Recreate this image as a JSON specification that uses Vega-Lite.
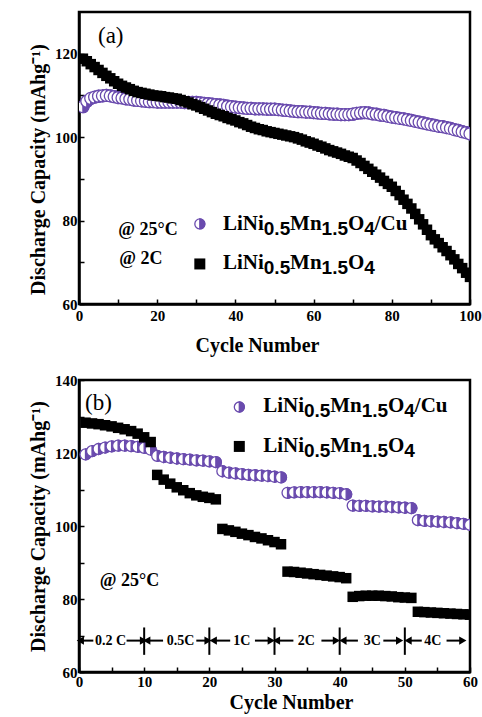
{
"$schema":"https://vega.github.io/schema/vega-lite/v6.json",
"background":"white",
"padding":{"left":27,"top":10,"right":6,"bottom":2},
"spacing":14,
"config":{
 "font":"Liberation Serif",
 "view":{"stroke":"black","strokeWidth":2.5},
 "axis":{"domainColor":"black","domainWidth":2.5,"tickColor":"black","tickWidth":1.5,"tickSize":-5,"grid":false,
  "labelFont":"Liberation Serif","labelFontWeight":"bold","labelFontSize":15,"labelColor":"black","labelFlush":false,"labelOverlap":false,"labelPadding":7,
  "titleFont":"Liberation Serif","titleFontWeight":"bold","titleFontSize":20,"titleColor":"black"},
 "text":{"font":"Liberation Serif","color":"black"}
},
"datasets":{
 "a":[
{"sample":"bare","cycle":1,"capacity":118.8},{"sample":"bare","cycle":2,"capacity":118.2},{"sample":"bare","cycle":3,"capacity":117.5},{"sample":"bare","cycle":4,"capacity":116.8},{"sample":"bare","cycle":5,"capacity":116.1},{"sample":"bare","cycle":6,"capacity":115.4},{"sample":"bare","cycle":7,"capacity":114.7},{"sample":"bare","cycle":8,"capacity":114.1},{"sample":"bare","cycle":9,"capacity":113.4},{"sample":"bare","cycle":10,"capacity":112.8},
{"sample":"bare","cycle":11,"capacity":112.3},{"sample":"bare","cycle":12,"capacity":111.9},{"sample":"bare","cycle":13,"capacity":111.5},{"sample":"bare","cycle":14,"capacity":111.1},{"sample":"bare","cycle":15,"capacity":110.8},{"sample":"bare","cycle":16,"capacity":110.6},{"sample":"bare","cycle":17,"capacity":110.4},{"sample":"bare","cycle":18,"capacity":110.2},{"sample":"bare","cycle":19,"capacity":110.0},{"sample":"bare","cycle":20,"capacity":109.9},
{"sample":"bare","cycle":21,"capacity":109.8},{"sample":"bare","cycle":22,"capacity":109.6},{"sample":"bare","cycle":23,"capacity":109.5},{"sample":"bare","cycle":24,"capacity":109.3},{"sample":"bare","cycle":25,"capacity":109.2},{"sample":"bare","cycle":26,"capacity":108.9},{"sample":"bare","cycle":27,"capacity":108.6},{"sample":"bare","cycle":28,"capacity":108.3},{"sample":"bare","cycle":29,"capacity":107.9},{"sample":"bare","cycle":30,"capacity":107.6},
{"sample":"bare","cycle":31,"capacity":107.2},{"sample":"bare","cycle":32,"capacity":106.8},{"sample":"bare","cycle":33,"capacity":106.4},{"sample":"bare","cycle":34,"capacity":106.0},{"sample":"bare","cycle":35,"capacity":105.6},{"sample":"bare","cycle":36,"capacity":105.3},{"sample":"bare","cycle":37,"capacity":105.0},{"sample":"bare","cycle":38,"capacity":104.6},{"sample":"bare","cycle":39,"capacity":104.3},{"sample":"bare","cycle":40,"capacity":104.0},
{"sample":"bare","cycle":41,"capacity":103.6},{"sample":"bare","cycle":42,"capacity":103.3},{"sample":"bare","cycle":43,"capacity":102.9},{"sample":"bare","cycle":44,"capacity":102.5},{"sample":"bare","cycle":45,"capacity":102.2},{"sample":"bare","cycle":46,"capacity":101.9},{"sample":"bare","cycle":47,"capacity":101.7},{"sample":"bare","cycle":48,"capacity":101.4},{"sample":"bare","cycle":49,"capacity":101.2},{"sample":"bare","cycle":50,"capacity":101.0},
{"sample":"bare","cycle":51,"capacity":100.8},{"sample":"bare","cycle":52,"capacity":100.6},{"sample":"bare","cycle":53,"capacity":100.4},{"sample":"bare","cycle":54,"capacity":100.2},{"sample":"bare","cycle":55,"capacity":100.0},{"sample":"bare","cycle":56,"capacity":99.7},{"sample":"bare","cycle":57,"capacity":99.4},{"sample":"bare","cycle":58,"capacity":99.0},{"sample":"bare","cycle":59,"capacity":98.7},{"sample":"bare","cycle":60,"capacity":98.4},
{"sample":"bare","cycle":61,"capacity":98.0},{"sample":"bare","cycle":62,"capacity":97.7},{"sample":"bare","cycle":63,"capacity":97.3},{"sample":"bare","cycle":64,"capacity":96.9},{"sample":"bare","cycle":65,"capacity":96.6},{"sample":"bare","cycle":66,"capacity":96.3},{"sample":"bare","cycle":67,"capacity":96.0},{"sample":"bare","cycle":68,"capacity":95.6},{"sample":"bare","cycle":69,"capacity":95.3},{"sample":"bare","cycle":70,"capacity":95.0},
{"sample":"bare","cycle":71,"capacity":94.4},{"sample":"bare","cycle":72,"capacity":93.8},{"sample":"bare","cycle":73,"capacity":93.1},{"sample":"bare","cycle":74,"capacity":92.4},{"sample":"bare","cycle":75,"capacity":91.7},{"sample":"bare","cycle":76,"capacity":91.0},{"sample":"bare","cycle":77,"capacity":90.3},{"sample":"bare","cycle":78,"capacity":89.5},{"sample":"bare","cycle":79,"capacity":88.8},{"sample":"bare","cycle":80,"capacity":88.1},
{"sample":"bare","cycle":81,"capacity":87.1},{"sample":"bare","cycle":82,"capacity":86.1},{"sample":"bare","cycle":83,"capacity":85.0},{"sample":"bare","cycle":84,"capacity":84.0},{"sample":"bare","cycle":85,"capacity":82.9},{"sample":"bare","cycle":86,"capacity":81.6},{"sample":"bare","cycle":87,"capacity":80.3},{"sample":"bare","cycle":88,"capacity":79.1},{"sample":"bare","cycle":89,"capacity":77.8},{"sample":"bare","cycle":90,"capacity":76.5},
{"sample":"bare","cycle":91,"capacity":75.5},{"sample":"bare","cycle":92,"capacity":74.6},{"sample":"bare","cycle":93,"capacity":73.6},{"sample":"bare","cycle":94,"capacity":72.7},{"sample":"bare","cycle":95,"capacity":71.7},{"sample":"bare","cycle":96,"capacity":70.7},{"sample":"bare","cycle":97,"capacity":69.6},{"sample":"bare","cycle":98,"capacity":68.6},{"sample":"bare","cycle":99,"capacity":67.5},{"sample":"bare","cycle":100,"capacity":66.5},
{"sample":"Cu","cycle":1,"capacity":107.3},{"sample":"Cu","cycle":2,"capacity":108.6},{"sample":"Cu","cycle":3,"capacity":109.3},{"sample":"Cu","cycle":4,"capacity":109.6},{"sample":"Cu","cycle":5,"capacity":109.8},{"sample":"Cu","cycle":6,"capacity":109.9},{"sample":"Cu","cycle":7,"capacity":110.0},{"sample":"Cu","cycle":8,"capacity":109.9},{"sample":"Cu","cycle":9,"capacity":109.7},{"sample":"Cu","cycle":10,"capacity":109.5},
{"sample":"Cu","cycle":11,"capacity":109.4},{"sample":"Cu","cycle":12,"capacity":109.2},{"sample":"Cu","cycle":13,"capacity":109.1},{"sample":"Cu","cycle":14,"capacity":108.9},{"sample":"Cu","cycle":15,"capacity":108.8},{"sample":"Cu","cycle":16,"capacity":108.7},{"sample":"Cu","cycle":17,"capacity":108.6},{"sample":"Cu","cycle":18,"capacity":108.5},{"sample":"Cu","cycle":19,"capacity":108.5},{"sample":"Cu","cycle":20,"capacity":108.4},
{"sample":"Cu","cycle":21,"capacity":108.4},{"sample":"Cu","cycle":22,"capacity":108.4},{"sample":"Cu","cycle":23,"capacity":108.4},{"sample":"Cu","cycle":24,"capacity":108.4},{"sample":"Cu","cycle":25,"capacity":108.4},{"sample":"Cu","cycle":26,"capacity":108.4},{"sample":"Cu","cycle":27,"capacity":108.3},{"sample":"Cu","cycle":28,"capacity":108.3},{"sample":"Cu","cycle":29,"capacity":108.3},{"sample":"Cu","cycle":30,"capacity":108.3},
{"sample":"Cu","cycle":31,"capacity":108.2},{"sample":"Cu","cycle":32,"capacity":108.1},{"sample":"Cu","cycle":33,"capacity":108.0},{"sample":"Cu","cycle":34,"capacity":107.9},{"sample":"Cu","cycle":35,"capacity":107.8},{"sample":"Cu","cycle":36,"capacity":107.7},{"sample":"Cu","cycle":37,"capacity":107.6},{"sample":"Cu","cycle":38,"capacity":107.4},{"sample":"Cu","cycle":39,"capacity":107.3},{"sample":"Cu","cycle":40,"capacity":107.2},
{"sample":"Cu","cycle":41,"capacity":107.1},{"sample":"Cu","cycle":42,"capacity":107.0},{"sample":"Cu","cycle":43,"capacity":106.9},{"sample":"Cu","cycle":44,"capacity":106.9},{"sample":"Cu","cycle":45,"capacity":106.8},{"sample":"Cu","cycle":46,"capacity":106.8},{"sample":"Cu","cycle":47,"capacity":106.8},{"sample":"Cu","cycle":48,"capacity":106.7},{"sample":"Cu","cycle":49,"capacity":106.7},{"sample":"Cu","cycle":50,"capacity":106.7},
{"sample":"Cu","cycle":51,"capacity":106.6},{"sample":"Cu","cycle":52,"capacity":106.5},{"sample":"Cu","cycle":53,"capacity":106.4},{"sample":"Cu","cycle":54,"capacity":106.3},{"sample":"Cu","cycle":55,"capacity":106.2},{"sample":"Cu","cycle":56,"capacity":106.1},{"sample":"Cu","cycle":57,"capacity":106.1},{"sample":"Cu","cycle":58,"capacity":106.0},{"sample":"Cu","cycle":59,"capacity":106.0},{"sample":"Cu","cycle":60,"capacity":105.9},
{"sample":"Cu","cycle":61,"capacity":105.8},{"sample":"Cu","cycle":62,"capacity":105.7},{"sample":"Cu","cycle":63,"capacity":105.7},{"sample":"Cu","cycle":64,"capacity":105.6},{"sample":"Cu","cycle":65,"capacity":105.5},{"sample":"Cu","cycle":66,"capacity":105.5},{"sample":"Cu","cycle":67,"capacity":105.4},{"sample":"Cu","cycle":68,"capacity":105.4},{"sample":"Cu","cycle":69,"capacity":105.4},{"sample":"Cu","cycle":70,"capacity":105.5},
{"sample":"Cu","cycle":71,"capacity":105.7},{"sample":"Cu","cycle":72,"capacity":105.8},{"sample":"Cu","cycle":73,"capacity":105.9},{"sample":"Cu","cycle":74,"capacity":105.8},{"sample":"Cu","cycle":75,"capacity":105.6},{"sample":"Cu","cycle":76,"capacity":105.5},{"sample":"Cu","cycle":77,"capacity":105.3},{"sample":"Cu","cycle":78,"capacity":105.2},{"sample":"Cu","cycle":79,"capacity":105.0},{"sample":"Cu","cycle":80,"capacity":104.8},
{"sample":"Cu","cycle":81,"capacity":104.7},{"sample":"Cu","cycle":82,"capacity":104.5},{"sample":"Cu","cycle":83,"capacity":104.4},{"sample":"Cu","cycle":84,"capacity":104.2},{"sample":"Cu","cycle":85,"capacity":104.0},{"sample":"Cu","cycle":86,"capacity":103.8},{"sample":"Cu","cycle":87,"capacity":103.6},{"sample":"Cu","cycle":88,"capacity":103.4},{"sample":"Cu","cycle":89,"capacity":103.2},{"sample":"Cu","cycle":90,"capacity":103.0},
{"sample":"Cu","cycle":91,"capacity":102.8},{"sample":"Cu","cycle":92,"capacity":102.6},{"sample":"Cu","cycle":93,"capacity":102.5},{"sample":"Cu","cycle":94,"capacity":102.3},{"sample":"Cu","cycle":95,"capacity":102.1},{"sample":"Cu","cycle":96,"capacity":101.8},{"sample":"Cu","cycle":97,"capacity":101.6},{"sample":"Cu","cycle":98,"capacity":101.3},{"sample":"Cu","cycle":99,"capacity":101.1},{"sample":"Cu","cycle":100,"capacity":100.8}
 ],
 "b":[
{"sample":"bare","cycle":1,"capacity":128.3},{"sample":"bare","cycle":2,"capacity":128.1},{"sample":"bare","cycle":3,"capacity":127.9},{"sample":"bare","cycle":4,"capacity":127.6},{"sample":"bare","cycle":5,"capacity":127.3},{"sample":"bare","cycle":6,"capacity":126.9},{"sample":"bare","cycle":7,"capacity":126.5},{"sample":"bare","cycle":8,"capacity":126.0},{"sample":"bare","cycle":9,"capacity":125.3},{"sample":"bare","cycle":10,"capacity":124.3},{"sample":"bare","cycle":11,"capacity":123.0},
{"sample":"bare","cycle":12,"capacity":114.0},{"sample":"bare","cycle":13,"capacity":112.7},{"sample":"bare","cycle":14,"capacity":111.6},{"sample":"bare","cycle":15,"capacity":110.6},{"sample":"bare","cycle":16,"capacity":109.8},{"sample":"bare","cycle":17,"capacity":109.0},{"sample":"bare","cycle":18,"capacity":108.4},{"sample":"bare","cycle":19,"capacity":108.0},{"sample":"bare","cycle":20,"capacity":107.7},{"sample":"bare","cycle":21,"capacity":107.3},
{"sample":"bare","cycle":22,"capacity":99.2},{"sample":"bare","cycle":23,"capacity":98.8},{"sample":"bare","cycle":24,"capacity":98.4},{"sample":"bare","cycle":25,"capacity":97.9},{"sample":"bare","cycle":26,"capacity":97.5},{"sample":"bare","cycle":27,"capacity":97.0},{"sample":"bare","cycle":28,"capacity":96.6},{"sample":"bare","cycle":29,"capacity":96.1},{"sample":"bare","cycle":30,"capacity":95.6},{"sample":"bare","cycle":31,"capacity":95.0},
{"sample":"bare","cycle":32,"capacity":87.5},{"sample":"bare","cycle":33,"capacity":87.4},{"sample":"bare","cycle":34,"capacity":87.2},{"sample":"bare","cycle":35,"capacity":87.0},{"sample":"bare","cycle":36,"capacity":86.8},{"sample":"bare","cycle":37,"capacity":86.6},{"sample":"bare","cycle":38,"capacity":86.4},{"sample":"bare","cycle":39,"capacity":86.2},{"sample":"bare","cycle":40,"capacity":86.0},{"sample":"bare","cycle":41,"capacity":85.7},
{"sample":"bare","cycle":42,"capacity":80.6},{"sample":"bare","cycle":43,"capacity":80.8},{"sample":"bare","cycle":44,"capacity":80.9},{"sample":"bare","cycle":45,"capacity":80.9},{"sample":"bare","cycle":46,"capacity":80.9},{"sample":"bare","cycle":47,"capacity":80.8},{"sample":"bare","cycle":48,"capacity":80.7},{"sample":"bare","cycle":49,"capacity":80.5},{"sample":"bare","cycle":50,"capacity":80.4},{"sample":"bare","cycle":51,"capacity":80.3},
{"sample":"bare","cycle":52,"capacity":76.5},{"sample":"bare","cycle":53,"capacity":76.4},{"sample":"bare","cycle":54,"capacity":76.3},{"sample":"bare","cycle":55,"capacity":76.2},{"sample":"bare","cycle":56,"capacity":76.1},{"sample":"bare","cycle":57,"capacity":76.0},{"sample":"bare","cycle":58,"capacity":75.9},{"sample":"bare","cycle":59,"capacity":75.8},{"sample":"bare","cycle":60,"capacity":75.7},
{"sample":"Cu","cycle":1,"capacity":119.6},{"sample":"Cu","cycle":2,"capacity":120.5},{"sample":"Cu","cycle":3,"capacity":121.1},{"sample":"Cu","cycle":4,"capacity":121.5},{"sample":"Cu","cycle":5,"capacity":121.8},{"sample":"Cu","cycle":6,"capacity":122.0},{"sample":"Cu","cycle":7,"capacity":122.0},{"sample":"Cu","cycle":8,"capacity":121.9},{"sample":"Cu","cycle":9,"capacity":121.7},{"sample":"Cu","cycle":10,"capacity":121.4},{"sample":"Cu","cycle":11,"capacity":120.9},
{"sample":"Cu","cycle":12,"capacity":119.2},{"sample":"Cu","cycle":13,"capacity":118.9},{"sample":"Cu","cycle":14,"capacity":118.7},{"sample":"Cu","cycle":15,"capacity":118.5},{"sample":"Cu","cycle":16,"capacity":118.3},{"sample":"Cu","cycle":17,"capacity":118.2},{"sample":"Cu","cycle":18,"capacity":118.0},{"sample":"Cu","cycle":19,"capacity":117.9},{"sample":"Cu","cycle":20,"capacity":117.7},{"sample":"Cu","cycle":21,"capacity":117.5},
{"sample":"Cu","cycle":22,"capacity":115.0},{"sample":"Cu","cycle":23,"capacity":114.6},{"sample":"Cu","cycle":24,"capacity":114.4},{"sample":"Cu","cycle":25,"capacity":114.2},{"sample":"Cu","cycle":26,"capacity":114.0},{"sample":"Cu","cycle":27,"capacity":113.9},{"sample":"Cu","cycle":28,"capacity":113.8},{"sample":"Cu","cycle":29,"capacity":113.7},{"sample":"Cu","cycle":30,"capacity":113.5},{"sample":"Cu","cycle":31,"capacity":113.3},
{"sample":"Cu","cycle":32,"capacity":109.1},{"sample":"Cu","cycle":33,"capacity":109.2},{"sample":"Cu","cycle":34,"capacity":109.3},{"sample":"Cu","cycle":35,"capacity":109.3},{"sample":"Cu","cycle":36,"capacity":109.3},{"sample":"Cu","cycle":37,"capacity":109.3},{"sample":"Cu","cycle":38,"capacity":109.2},{"sample":"Cu","cycle":39,"capacity":109.1},{"sample":"Cu","cycle":40,"capacity":109.0},{"sample":"Cu","cycle":41,"capacity":108.7},
{"sample":"Cu","cycle":42,"capacity":105.6},{"sample":"Cu","cycle":43,"capacity":105.5},{"sample":"Cu","cycle":44,"capacity":105.5},{"sample":"Cu","cycle":45,"capacity":105.4},{"sample":"Cu","cycle":46,"capacity":105.3},{"sample":"Cu","cycle":47,"capacity":105.3},{"sample":"Cu","cycle":48,"capacity":105.2},{"sample":"Cu","cycle":49,"capacity":105.1},{"sample":"Cu","cycle":50,"capacity":105.0},{"sample":"Cu","cycle":51,"capacity":104.9},
{"sample":"Cu","cycle":52,"capacity":101.6},{"sample":"Cu","cycle":53,"capacity":101.4},{"sample":"Cu","cycle":54,"capacity":101.3},{"sample":"Cu","cycle":55,"capacity":101.2},{"sample":"Cu","cycle":56,"capacity":101.1},{"sample":"Cu","cycle":57,"capacity":101.0},{"sample":"Cu","cycle":58,"capacity":100.8},{"sample":"Cu","cycle":59,"capacity":100.6},{"sample":"Cu","cycle":60,"capacity":100.3}
 ],
 "legTextA":[
{"text":"LiNi","pos":"main","cycle":36.83,"capacity":77.7},{"text":"0.5","pos":"sub","cycle":47.26,"capacity":77.7},{"text":"Mn","pos":"main","cycle":53.99,"capacity":77.7},{"text":"1.5","pos":"sub","cycle":62.05,"capacity":77.7},{"text":"O","pos":"main","cycle":68.77,"capacity":77.7},{"text":"4","pos":"sub","cycle":72.94,"capacity":77.7},{"text":"/Cu","pos":"main","cycle":75.63,"capacity":77.7},
{"text":"LiNi","pos":"main","cycle":36.83,"capacity":68.4},{"text":"0.5","pos":"sub","cycle":47.26,"capacity":68.4},{"text":"Mn","pos":"main","cycle":53.99,"capacity":68.4},{"text":"1.5","pos":"sub","cycle":62.05,"capacity":68.4},{"text":"O","pos":"main","cycle":68.77,"capacity":68.4},{"text":"4","pos":"sub","cycle":72.94,"capacity":68.4}
 ],
 "legSymA":[{"sample":"Cu","cycle":30.9,"capacity":79.2},{"sample":"bare","cycle":30.9,"capacity":69.6}],
 "noteA":[{"text":"@ 25°C","cycle":10.05,"capacity":76.5},{"text":"@ 2C","cycle":10.3,"capacity":69.7}],
 "panelA":[{"text":"(a)","cycle":4.86,"capacity":122.6}],
 "legTextB":[
{"text":"LiNi","pos":"main","cycle":28.27,"capacity":131.2},{"text":"0.5","pos":"sub","cycle":34.53,"capacity":131.2},{"text":"Mn","pos":"main","cycle":38.56,"capacity":131.2},{"text":"1.5","pos":"sub","cycle":43.39,"capacity":131.2},{"text":"O","pos":"main","cycle":47.42,"capacity":131.2},{"text":"4","pos":"sub","cycle":49.92,"capacity":131.2},{"text":"/Cu","pos":"main","cycle":51.53,"capacity":131.2},
{"text":"LiNi","pos":"main","cycle":28.27,"capacity":120.3},{"text":"0.5","pos":"sub","cycle":34.53,"capacity":120.3},{"text":"Mn","pos":"main","cycle":38.56,"capacity":120.3},{"text":"1.5","pos":"sub","cycle":43.39,"capacity":120.3},{"text":"O","pos":"main","cycle":47.42,"capacity":120.3},{"text":"4","pos":"sub","cycle":49.92,"capacity":120.3}
 ],
 "legSymB":[{"sample":"Cu","cycle":24.6,"capacity":132.6},{"sample":"bare","cycle":24.6,"capacity":121.8}],
 "noteB":[{"text":"@ 25°C","cycle":3.2,"capacity":83.6}],
 "panelB":[{"text":"(b)","cycle":0.92,"capacity":131.8}],
 "rates":[{"text":"0.2 C","cycle":4.86,"capacity":68.6},{"text":"0.5C","cycle":15.6,"capacity":68.6},{"text":"1C","cycle":25.0,"capacity":68.6},{"text":"2C","cycle":34.9,"capacity":68.6},{"text":"3C","cycle":45.0,"capacity":68.6},{"text":"4C","cycle":54.3,"capacity":68.6}],
 "arrows":[
{"dir":"left","cycle":0.2,"cycle2":2.2,"capacity":68.6},{"dir":"right","cycle":7.3,"cycle2":9.9,"capacity":68.6},
{"dir":"left","cycle":10.4,"cycle2":12.9,"capacity":68.6},{"dir":"right","cycle":18.0,"cycle2":19.8,"capacity":68.6},
{"dir":"left","cycle":20.6,"cycle2":23.2,"capacity":68.6},{"dir":"right","cycle":27.0,"cycle2":29.5,"capacity":68.6},
{"dir":"left","cycle":30.3,"cycle2":32.9,"capacity":68.6},{"dir":"right","cycle":37.2,"cycle2":39.5,"capacity":68.6},
{"dir":"left","cycle":40.5,"cycle2":42.8,"capacity":68.6},{"dir":"right","cycle":46.7,"cycle2":49.2,"capacity":68.6},
{"dir":"left","cycle":50.5,"cycle2":52.6,"capacity":68.6},{"dir":"right","cycle":56.4,"cycle2":58.9,"capacity":68.6}
 ],
 "dividers":[{"cycle":10,"capacity":64.7,"capacity2":72.2},{"cycle":20,"capacity":64.7,"capacity2":72.2},{"cycle":30,"capacity":64.7,"capacity2":72.2},{"cycle":40,"capacity":64.7,"capacity2":72.2},{"cycle":50,"capacity":64.7,"capacity2":72.2}]
},
"vconcat":[
 {
  "width":391,"height":292,
  "encoding":{
   "x":{"field":"cycle","type":"quantitative","scale":{"domain":[0,100],"nice":false,"zero":false},
        "axis":{"values":[0,10,20,30,40,50,60,70,80,90,100],"labelExpr":"datum.value % 20 === 0 ? datum.label : ''","labelPadding":9,"title":"Cycle Number","titlePadding":12,"titleX":178}},
   "y":{"field":"capacity","type":"quantitative","scale":{"domain":[60,130],"nice":false,"zero":false},
        "axis":{"values":[60,70,80,90,100,110,120],"labelExpr":"datum.value % 20 === 0 ? datum.label : ''","title":"Discharge Capacity (mAhg⁻¹)","titlePadding":6,"titleY":157}}
  },
  "layer":[
   {"data":{"name":"a"},"transform":[{"filter":"datum.sample === 'Cu'"},{"calculate":"['body','half']","as":"part"},{"flatten":["part"]}],
    "mark":{"type":"point","filled":true,"clip":true,"stroke":"#6A4BAE","strokeWidth":1.3,"size":144,"opacity":1},
    "encoding":{"shape":{"field":"part","type":"nominal","scale":{"domain":["body","half"],"range":["circle","M0,-1A1,1,0,0,1,0,1Z"]},"legend":null},
                "fill":{"field":"part","type":"nominal","scale":{"domain":["body","half"],"range":["white","#6A4BAE"]},"legend":null}}},
   {"data":{"name":"a"},"transform":[{"filter":"datum.sample === 'bare'"}],
    "mark":{"type":"point","shape":"square","filled":true,"clip":true,"color":"black","size":110,"opacity":1,"strokeWidth":0}},
   {"data":{"name":"legSymA"},"transform":[{"filter":"datum.sample === 'Cu'"},{"calculate":"['body','half']","as":"part"},{"flatten":["part"]}],
    "mark":{"type":"point","filled":true,"stroke":"#6A4BAE","strokeWidth":1.3,"size":100,"opacity":1},
    "encoding":{"shape":{"field":"part","type":"nominal","scale":{"domain":["body","half"],"range":["circle","M0,-1A1,1,0,0,1,0,1Z"]},"legend":null},
                "fill":{"field":"part","type":"nominal","scale":{"domain":["body","half"],"range":["white","#6A4BAE"]},"legend":null}}},
   {"data":{"name":"legSymA"},"transform":[{"filter":"datum.sample === 'bare'"}],
    "mark":{"type":"point","shape":"square","filled":true,"color":"black","size":121,"opacity":1,"strokeWidth":0}},
   {"data":{"name":"legTextA"},"transform":[{"filter":"datum.pos === 'main'"}],
    "mark":{"type":"text","align":"left","baseline":"alphabetic","font":"Liberation Serif","fontSize":21,"fontWeight":"bold"},"encoding":{"text":{"field":"text"}}},
   {"data":{"name":"legTextA"},"transform":[{"filter":"datum.pos === 'sub'"}],
    "mark":{"type":"text","align":"left","baseline":"alphabetic","dy":5,"font":"Liberation Sans","fontSize":19,"fontWeight":"bold"},"encoding":{"text":{"field":"text"}}},
   {"data":{"name":"noteA"},
    "mark":{"type":"text","align":"left","baseline":"alphabetic","font":"Liberation Serif","fontSize":18,"fontWeight":"bold"},"encoding":{"text":{"field":"text"}}},
   {"data":{"name":"panelA"},
    "mark":{"type":"text","align":"left","baseline":"alphabetic","font":"Liberation Serif","fontSize":23,"fontWeight":"normal"},"encoding":{"text":{"field":"text"}}}
  ]
 },
 {
  "width":391,"height":292,
  "encoding":{
   "x":{"field":"cycle","type":"quantitative","scale":{"domain":[0,60],"nice":false,"zero":false},
        "axis":{"values":[0,5,10,15,20,25,30,35,40,45,50,55,60],"labelExpr":"datum.value % 10 === 0 ? datum.label : ''","labelPadding":7,"title":"Cycle Number","titlePadding":3,"titleX":212}},
   "y":{"field":"capacity","type":"quantitative","scale":{"domain":[60,140],"nice":false,"zero":false},
        "axis":{"values":[60,70,80,90,100,110,120,130,140],"labelExpr":"datum.value % 20 === 0 ? datum.label : ''","title":"Discharge Capacity (mAhg⁻¹)","titlePadding":6}}
  },
  "layer":[
   {"data":{"name":"b"},"transform":[{"filter":"datum.sample === 'Cu'"},{"calculate":"['body','half']","as":"part"},{"flatten":["part"]}],
    "mark":{"type":"point","filled":true,"clip":true,"stroke":"#6A4BAE","strokeWidth":1.3,"size":121,"opacity":1},
    "encoding":{"shape":{"field":"part","type":"nominal","scale":{"domain":["body","half"],"range":["circle","M0,-1A1,1,0,0,1,0,1Z"]},"legend":null},
                "fill":{"field":"part","type":"nominal","scale":{"domain":["body","half"],"range":["white","#6A4BAE"]},"legend":null}}},
   {"data":{"name":"b"},"transform":[{"filter":"datum.sample === 'bare'"}],
    "mark":{"type":"point","shape":"square","filled":true,"clip":true,"color":"black","size":110,"opacity":1,"strokeWidth":0}},
   {"data":{"name":"legSymB"},"transform":[{"filter":"datum.sample === 'Cu'"},{"calculate":"['body','half']","as":"part"},{"flatten":["part"]}],
    "mark":{"type":"point","filled":true,"stroke":"#6A4BAE","strokeWidth":1.3,"size":100,"opacity":1},
    "encoding":{"shape":{"field":"part","type":"nominal","scale":{"domain":["body","half"],"range":["circle","M0,-1A1,1,0,0,1,0,1Z"]},"legend":null},
                "fill":{"field":"part","type":"nominal","scale":{"domain":["body","half"],"range":["white","#6A4BAE"]},"legend":null}}},
   {"data":{"name":"legSymB"},"transform":[{"filter":"datum.sample === 'bare'"}],
    "mark":{"type":"point","shape":"square","filled":true,"color":"black","size":121,"opacity":1,"strokeWidth":0}},
   {"data":{"name":"legTextB"},"transform":[{"filter":"datum.pos === 'main'"}],
    "mark":{"type":"text","align":"left","baseline":"alphabetic","font":"Liberation Serif","fontSize":21,"fontWeight":"bold"},"encoding":{"text":{"field":"text"}}},
   {"data":{"name":"legTextB"},"transform":[{"filter":"datum.pos === 'sub'"}],
    "mark":{"type":"text","align":"left","baseline":"alphabetic","dy":5,"font":"Liberation Sans","fontSize":19,"fontWeight":"bold"},"encoding":{"text":{"field":"text"}}},
   {"data":{"name":"noteB"},
    "mark":{"type":"text","align":"left","baseline":"alphabetic","font":"Liberation Serif","fontSize":18,"fontWeight":"bold"},"encoding":{"text":{"field":"text"}}},
   {"data":{"name":"panelB"},
    "mark":{"type":"text","align":"left","baseline":"alphabetic","font":"Liberation Serif","fontSize":23,"fontWeight":"normal"},"encoding":{"text":{"field":"text"}}},
   {"data":{"name":"rates"},
    "mark":{"type":"text","align":"center","baseline":"middle","font":"Liberation Serif","fontSize":14,"fontWeight":"bold"},"encoding":{"text":{"field":"text"}}},
   {"data":{"name":"arrows"},
    "mark":{"type":"rule","color":"black","strokeWidth":2},"encoding":{"x2":{"field":"cycle2"}}},
   {"data":{"name":"arrows"},"transform":[{"filter":"datum.dir === 'left'"}],
    "mark":{"type":"point","shape":"triangle-left","filled":true,"color":"black","size":70,"opacity":1,"strokeWidth":0}},
   {"data":{"name":"arrows"},"transform":[{"filter":"datum.dir === 'right'"}],
    "mark":{"type":"point","shape":"triangle-right","filled":true,"color":"black","size":70,"opacity":1,"strokeWidth":0},
    "encoding":{"x":{"field":"cycle2","type":"quantitative"}}},
   {"data":{"name":"dividers"},
    "mark":{"type":"rule","color":"black","strokeWidth":2},"encoding":{"y2":{"field":"capacity2"}}}
  ]
 }
]
}
